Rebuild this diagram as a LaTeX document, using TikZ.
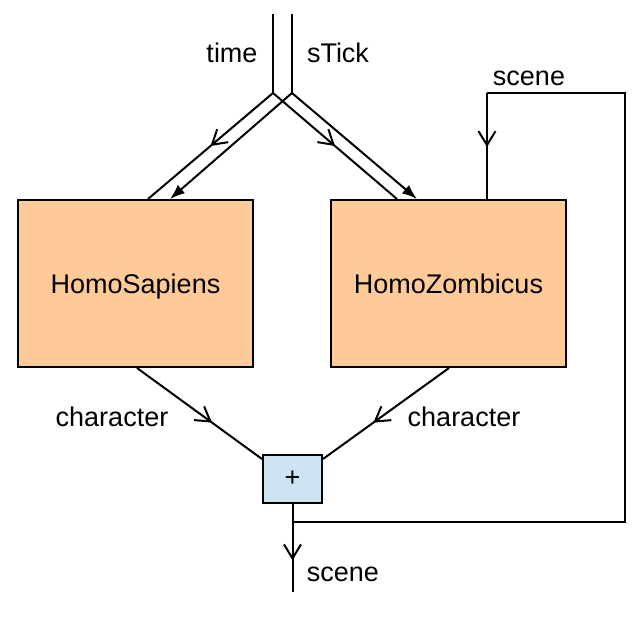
\documentclass[tikz,border=0pt]{standalone}
\usepackage{fontspec}
\setmainfont{Liberation Sans}
\usetikzlibrary{arrows.meta,decorations.markings}
\definecolor{peach}{RGB}{254,203,152}
\definecolor{paleblue}{RGB}{207,228,242}
\tikzset{
	block/.style={draw, line width=1pt, fill=peach, minimum width=117.5pt, minimum height=83.5pt, inner sep=0pt, text height=9.7pt, text depth=0pt},
	adder/.style={draw, line width=1pt, fill=paleblue, minimum width=29.5pt, minimum height=24pt, inner sep=0pt},
	wire/.style={line width=1pt},
	lbl/.style={inner sep=0pt, font=\fontsize{13.5}{16}\selectfont},
	midarrow/.style={postaction={decorate}, decoration={markings, mark=at position #1 with {\arrow{Straight Barb[length=7pt,width=8.5pt,line width=1pt]}}}},
	endarrow/.style={-{Latex[length=7.5pt,width=5.5pt]}}
}
\begin{document}
\begin{tikzpicture}[x=0.5pt, y=-0.5pt]
	\useasboundingbox (0,0) rectangle (644,617);
	
	%The two creatures
	\node[block, lbl] (sapiens) at (135.5,283.5) {HomoSapiens};
	\node[block, lbl] (zombie) at (448.5,283.5) {HomoZombicus};
	
	%The adder
	\node[adder, lbl] (plus) at (292.5,479) {+};
	
	%Inputs from above
	\coordinate (timetop) at (273,14);
	\coordinate (timesplit) at (273,93);
	\coordinate (ticktop) at (292,14);
	\coordinate (ticksplit) at (292,93);
	\node[lbl] (timelbl) at (232,53) {time};
	\node[lbl] (ticklbl) at (338,53) {sTick};
	
	\draw[wire] (timetop) -- (timesplit);
	\draw[wire] (ticktop) -- (ticksplit);
	\draw[wire, midarrow=0.5] (timesplit) -- ([xshift=6.25pt]sapiens.north);
	\draw[wire, midarrow=0.5] (timesplit) -- ([xshift=-25.75pt]zombie.north);
	\draw[wire, endarrow] (ticksplit) -- ([xshift=17.25pt]sapiens.north);
	\draw[wire, endarrow] (ticksplit) -- ([xshift=-15.75pt]zombie.north);
	
	%Characters into the adder
	\node[lbl] (charleft) at (112,417) {character};
	\node[lbl] (charright) at (464,417) {character};
	\draw[wire, midarrow=0.6] ([xshift=0.75pt]sapiens.south) -- ([yshift=-2.5pt]plus.north west);
	\draw[wire, midarrow=0.6] ([xshift=0.25pt]zombie.south) -- ([yshift=-2.5pt]plus.north east);
	
	%Scene out and back
	\coordinate (out) at (292.5,592);
	\coordinate (fb) at (292.5,522);
	\coordinate (fbright) at (625,522);
	\coordinate (fbtop) at (625,93);
	\coordinate (fbleft) at (487,93);
	\node[lbl] (scenelow) at (343,574) {scene};
	\node[lbl] (scenehigh) at (529,78) {scene};
	\draw[wire, midarrow=0.64] (plus.south) -- (out);
	\draw[wire] (fb) -- (fbright) -- (fbtop) -- (fbleft);
	\draw[wire, midarrow=0.51] (fbleft) -- ([xshift=19.25pt]zombie.north);
\end{tikzpicture}
\end{document}
